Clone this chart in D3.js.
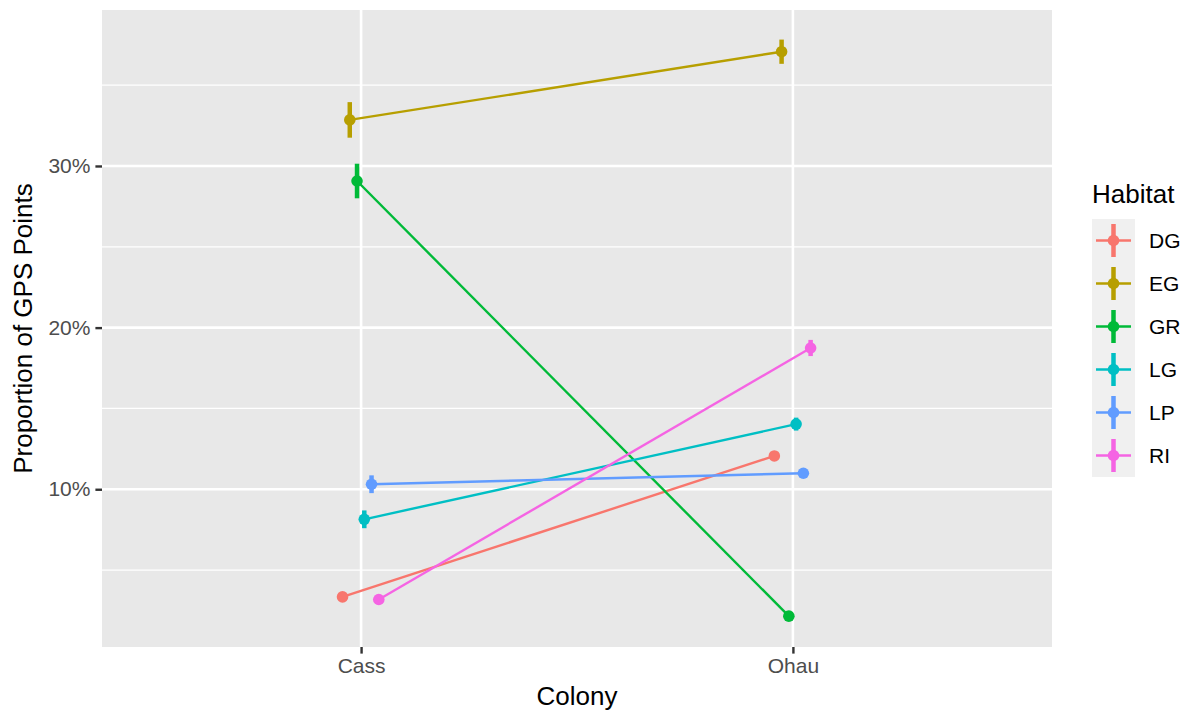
<!DOCTYPE html>
<html>
<head>
<meta charset="utf-8">
<script src="https://cdn.jsdelivr.net/npm/d3@7"></script>
<style>
  body { margin: 0; background: #fff; }
  text { font-family: "Liberation Sans", Arial, sans-serif; }
</style>
</head>
<body>
<div id="chart"></div>
<script>
// colonies on the x axis, habitats as series
const colonies = ["Cass", "Ohau"];
const habitats = ["DG", "EG", "GR", "LG", "LP", "RI"];
const colours = ["#F8766D", "#B79F00", "#00BA38", "#00BFC4", "#619CFF", "#F564E3"];
// mean proportion (%) per habitat, [Cass, Ohau]
const meanDG = [3.34, 12.06];
const meanEG = [32.85, 37.07];
const meanGR = [29.07, 2.15];
const meanLG = [8.14, 14.03];
const meanLP = [10.31, 10.99];
const meanRI = [3.18, 18.74];
// error half-widths (%)
const errDG = [0.2, 0.2];
const errEG = [1.1, 0.75];
const errGR = [1.07, 0.2];
const errLG = [0.55, 0.4];
const errLP = [0.55, 0.25];
const errRI = [0.2, 0.5];
const yTicks = [10, 20, 30];

const means = [meanDG, meanEG, meanGR, meanLG, meanLP, meanRI];
const errs = [errDG, errEG, errGR, errLG, errLP, errRI];

const W = 1189, H = 713;
const panel = { left: 102, right: 1052, top: 10, bottom: 647 };

const svg = d3.select("#chart").append("svg")
    .attr("width", W)
    .attr("height", H);

// discrete x with ggplot's 0.6 expansion
const x = d3.scaleLinear().domain([0.4, 2.6]).range([panel.left, panel.right]);
const y = d3.scaleLinear().domain([0.24, 39.65]).range([panel.bottom, panel.top]);
const dodge = d3.scalePoint().domain(habitats).range([-0.043, 0.041]);

svg.append("rect")
    .attr("x", panel.left).attr("y", panel.top)
    .attr("width", panel.right - panel.left)
    .attr("height", panel.bottom - panel.top)
    .attr("fill", "#E8E8E8");

const grid = svg.append("g");
const minor = [5, 15, 25, 35];
grid.selectAll(".minor").data(minor).enter().append("line")
    .attr("x1", panel.left).attr("x2", panel.right)
    .attr("y1", d => y(d)).attr("y2", d => y(d))
    .attr("stroke", "#fff").attr("stroke-width", 1.3);
grid.selectAll(".major").data(yTicks).enter().append("line")
    .attr("x1", panel.left).attr("x2", panel.right)
    .attr("y1", d => y(d)).attr("y2", d => y(d))
    .attr("stroke", "#fff").attr("stroke-width", 2.6);
grid.selectAll(".vmajor").data(colonies).enter().append("line")
    .attr("x1", (d, i) => x(i + 1)).attr("x2", (d, i) => x(i + 1))
    .attr("y1", panel.top).attr("y2", panel.bottom)
    .attr("stroke", "#fff").attr("stroke-width", 2.6);

// axes
const yAxis = d3.axisLeft(y).tickValues(yTicks).tickFormat(d => d + "%").tickSize(6.6).tickPadding(5);
const gy = svg.append("g").attr("transform", `translate(${panel.left},0)`).call(yAxis);
gy.select(".domain").remove();
gy.selectAll("line").attr("stroke", "#333").attr("stroke-width", 2.4);
gy.selectAll("text").attr("fill", "#4D4D4D").style("font-size", "21px");

const xAxis = d3.axisBottom(x).tickValues([1, 2]).tickFormat(d => colonies[d - 1]).tickSize(6.6).tickPadding(4);
const gx = svg.append("g").attr("transform", `translate(0,${panel.bottom})`).call(xAxis);
gx.select(".domain").remove();
gx.selectAll("line").attr("stroke", "#333").attr("stroke-width", 2.4);
gx.selectAll("text").attr("fill", "#4D4D4D").style("font-size", "21px");

svg.append("text")
    .attr("x", (panel.left + panel.right) / 2).attr("y", 705)
    .attr("text-anchor", "middle").style("font-size", "26px")
    .text("Colony");
svg.append("text")
    .attr("transform", `translate(32,${(panel.top + panel.bottom) / 2}) rotate(-90)`)
    .attr("text-anchor", "middle").style("font-size", "26px")
    .text("Proportion of GPS Points");

// series
const marks = svg.append("g");
habitats.forEach((h, k) => {
    const pts = colonies.map((c, i) => ({
        px: x(i + 1 + dodge(h)), m: means[k][i], e: errs[k][i]
    }));
    marks.append("path")
        .attr("d", d3.line().x(d => d.px).y(d => y(d.m))(pts))
        .attr("fill", "none").attr("stroke", colours[k]).attr("stroke-width", 2.4);
});
habitats.forEach((h, k) => {
    const g = marks.append("g");
    colonies.forEach((c, i) => {
        const px = x(i + 1 + dodge(h));
        g.append("line")
            .attr("x1", px).attr("x2", px)
            .attr("y1", y(means[k][i] - errs[k][i])).attr("y2", y(means[k][i] + errs[k][i]))
            .attr("stroke", colours[k]).attr("stroke-width", 4.5);
        g.append("circle")
            .attr("cx", px).attr("cy", y(means[k][i])).attr("r", 5.8)
            .attr("fill", colours[k]);
    });
});

// legend
const legend = svg.append("g");
legend.append("text").attr("x", 1092).attr("y", 203).style("font-size", "26px").text("Habitat");
const keySize = 43, keyX = 1092, keyY = 219;
habitats.forEach((h, k) => {
    const cy = keyY + k * keySize + keySize / 2;
    legend.append("rect")
        .attr("x", keyX).attr("y", keyY + k * keySize)
        .attr("width", keySize).attr("height", keySize)
        .attr("fill", "#F0F0F0");
    legend.append("line")
        .attr("x1", keyX + 4).attr("x2", keyX + keySize - 4)
        .attr("y1", cy).attr("y2", cy)
        .attr("stroke", colours[k]).attr("stroke-width", 2.6);
    legend.append("line")
        .attr("x1", keyX + keySize / 2).attr("x2", keyX + keySize / 2)
        .attr("y1", cy - 16.5).attr("y2", cy + 16.5)
        .attr("stroke", colours[k]).attr("stroke-width", 4.5);
    legend.append("circle")
        .attr("cx", keyX + keySize / 2).attr("cy", cy).attr("r", 5.8)
        .attr("fill", colours[k]);
    legend.append("text")
        .attr("x", 1149).attr("y", cy + 7.5)
        .style("font-size", "21px")
        .text(h);
});
</script>
</body>
</html>
